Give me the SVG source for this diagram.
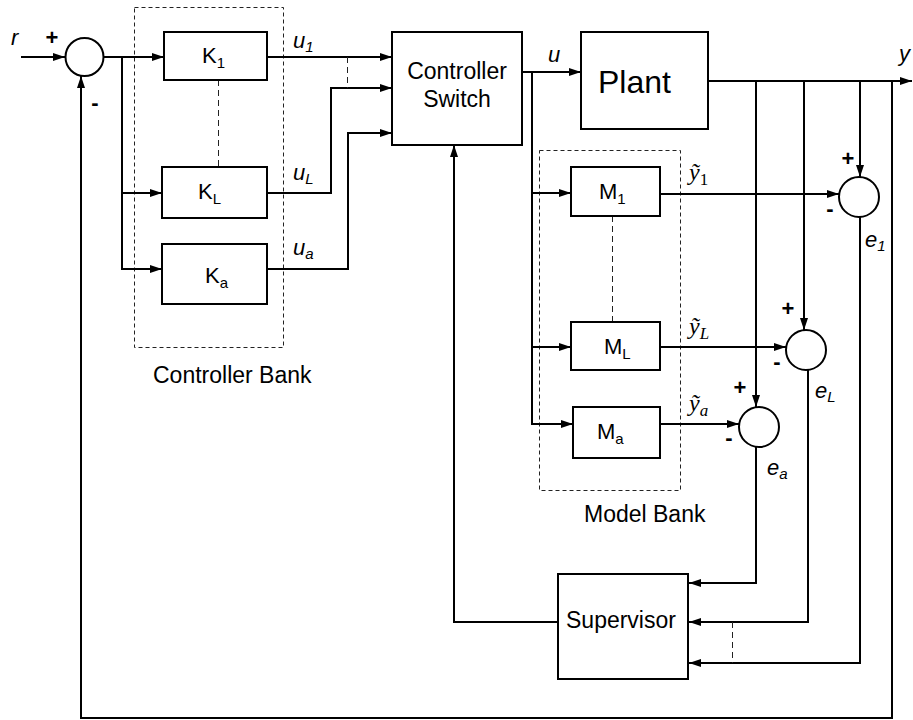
<svg xmlns="http://www.w3.org/2000/svg" width="913" height="720" viewBox="0 0 913 720">
<style>
.box{fill:#fff;stroke:#000;stroke-width:2}
.bank{fill:none;stroke:#222;stroke-width:1;stroke-dasharray:4,3}
.ln{fill:none;stroke:#000;stroke-width:2}
.dl{fill:none;stroke:#222;stroke-width:1;stroke-dasharray:6,4}
.t{font-family:"Liberation Sans",Arial,sans-serif;fill:#000}
.lbl{font-family:"Liberation Sans",Arial,sans-serif;font-size:23px;fill:#000}
.it{font-family:"Liberation Sans",Arial,sans-serif;font-style:italic;font-size:22px;fill:#000}
.ser{font-family:"Liberation Serif","Times New Roman",serif;font-style:italic;font-size:24px;fill:#000}
.sg{font-family:"Liberation Sans",Arial,sans-serif;font-size:22px;font-weight:bold;fill:#000;text-anchor:middle}
</style>
<defs>
<marker id="ah" markerUnits="userSpaceOnUse" markerWidth="12" markerHeight="8" refX="12" refY="4" orient="auto">
<path d="M0,0 L12,4 L0,8 z" fill="#000"/>
</marker>
</defs>

<g id="controller-bank">
<rect class="bank" x="134.5" y="7.5" width="149" height="340"/>
<text class="lbl" x="153" y="383">Controller Bank</text>
</g>
<g id="model-bank">
<rect class="bank" x="539.5" y="150.5" width="141" height="340"/>
<text class="lbl" x="584" y="522">Model Bank</text>
</g>

<g id="connectors">
<path class="ln" d="M21,57 H65" marker-end="url(#ah)"/>
<path class="ln" d="M103.5,57 H164" marker-end="url(#ah)"/>
<path class="ln" d="M122,57 V269 H162" marker-end="url(#ah)"/>
<path class="ln" d="M122,193 H162" marker-end="url(#ah)"/>
<path class="ln" d="M267,57 H392" marker-end="url(#ah)"/>
<path class="ln" d="M267,193 H331 V88 H392" marker-end="url(#ah)"/>
<path class="ln" d="M267,269 H348 V133 H392" marker-end="url(#ah)"/>
<path class="dl" d="M347.5,57 V88"/>
<path class="dl" d="M218.5,80 V167"/>
<path class="ln" d="M522,72 H581" marker-end="url(#ah)"/>
<path class="ln" d="M532,72 V424 H573" marker-end="url(#ah)"/>
<path class="ln" d="M532,193 H571" marker-end="url(#ah)"/>
<path class="ln" d="M532,347 H571" marker-end="url(#ah)"/>
<path class="dl" d="M612.5,216 V322"/>
<path class="ln" d="M708,81 H912" marker-end="url(#ah)"/>
<path class="ln" d="M756,81 V407" marker-end="url(#ah)"/>
<path class="ln" d="M804,81 V330" marker-end="url(#ah)"/>
<path class="ln" d="M860,81 V177" marker-end="url(#ah)"/>
<path class="ln" d="M892,81 V718 H81 V76" marker-end="url(#ah)"/>
<path class="ln" d="M660,194 H839" marker-end="url(#ah)"/>
<path class="ln" d="M660,347 H786" marker-end="url(#ah)"/>
<path class="ln" d="M660,424 H739" marker-end="url(#ah)"/>
<path class="ln" d="M756,447 V583 H689" marker-end="url(#ah)"/>
<path class="ln" d="M808,370 V622 H689" marker-end="url(#ah)"/>
<path class="ln" d="M860,217 V663 H689" marker-end="url(#ah)"/>
<path class="dl" d="M732.5,622 V663"/>
<path class="ln" d="M558,622 H454 V145" marker-end="url(#ah)"/>
</g>

<g id="sum0">
<circle class="box" cx="84.5" cy="57" r="19"/>
<text class="sg" x="52" y="45">+</text>
<text class="sg" x="95" y="110">-</text>
</g>
<g id="K1">
<rect class="box" x="164" y="32" width="103" height="48"/>
<text class="t" x="202" y="63" font-size="22">K<tspan font-size="15" dy="5">1</tspan></text>
</g>
<g id="KL">
<rect class="box" x="162" y="167" width="105" height="51"/>
<text class="t" x="198" y="199" font-size="22">K<tspan font-size="15" dy="5">L</tspan></text>
</g>
<g id="Ka">
<rect class="box" x="162" y="244" width="105" height="60"/>
<text class="t" x="205" y="283" font-size="22">K<tspan font-size="15" dy="5">a</tspan></text>
</g>
<g id="controller-switch">
<rect class="box" x="392" y="32" width="130" height="113"/>
<text class="lbl" x="457" y="79" text-anchor="middle">Controller</text>
<text class="lbl" x="457" y="107" text-anchor="middle">Switch</text>
</g>
<g id="plant">
<rect class="box" x="581" y="32" width="127" height="97"/>
<text class="t" x="598" y="93" font-size="32">Plant</text>
</g>
<g id="M1">
<rect class="box" x="571" y="167" width="89" height="49"/>
<text class="t" x="599" y="199" font-size="22">M<tspan font-size="15" dy="5">1</tspan></text>
</g>
<g id="ML">
<rect class="box" x="571" y="322" width="89" height="48"/>
<text class="t" x="604" y="354" font-size="22">M<tspan font-size="15" dy="5">L</tspan></text>
</g>
<g id="Ma">
<rect class="box" x="573" y="407" width="87" height="51"/>
<text class="t" x="597" y="439" font-size="22">M<tspan font-size="15" dy="5">a</tspan></text>
</g>
<g id="e1-sum">
<circle class="box" cx="859" cy="197" r="20"/>
<text class="sg" x="848" y="166">+</text>
<text class="sg" x="830" y="216">-</text>
</g>
<g id="eL-sum">
<circle class="box" cx="806" cy="350" r="20"/>
<text class="sg" x="788" y="316">+</text>
<text class="sg" x="777" y="369">-</text>
</g>
<g id="ea-sum">
<circle class="box" cx="759" cy="427" r="20"/>
<text class="sg" x="740" y="395">+</text>
<text class="sg" x="729" y="445">-</text>
</g>
<g id="supervisor">
<rect class="box" x="558" y="574" width="130" height="105"/>
<text class="lbl" x="566" y="628">Supervisor</text>
</g>

<g id="labels">
<text class="it" x="11" y="45" font-size="24">r</text>
<text class="it" x="293" y="48">u<tspan font-size="15" dy="4">1</tspan></text>
<text class="it" x="293" y="180">u<tspan font-size="15" dy="4">L</tspan></text>
<text class="it" x="293" y="255">u<tspan font-size="15" dy="4">a</tspan></text>
<text class="it" x="548" y="62">u</text>
<text class="it" x="899" y="61">y</text>
<text class="ser" x="689" y="180">ỹ<tspan font-style="normal" font-size="17" dy="5">1</tspan></text>
<text class="ser" x="689" y="334">ỹ<tspan font-size="17" dy="5">L</tspan></text>
<text class="ser" x="689" y="411">ỹ<tspan font-size="17" dy="5">a</tspan></text>
<text class="it" x="865" y="247">e<tspan font-size="15" dy="4">1</tspan></text>
<text class="it" x="815" y="398">e<tspan font-size="15" dy="4">L</tspan></text>
<text class="it" x="767" y="475">e<tspan font-size="15" dy="4">a</tspan></text>
</g>
</svg>
